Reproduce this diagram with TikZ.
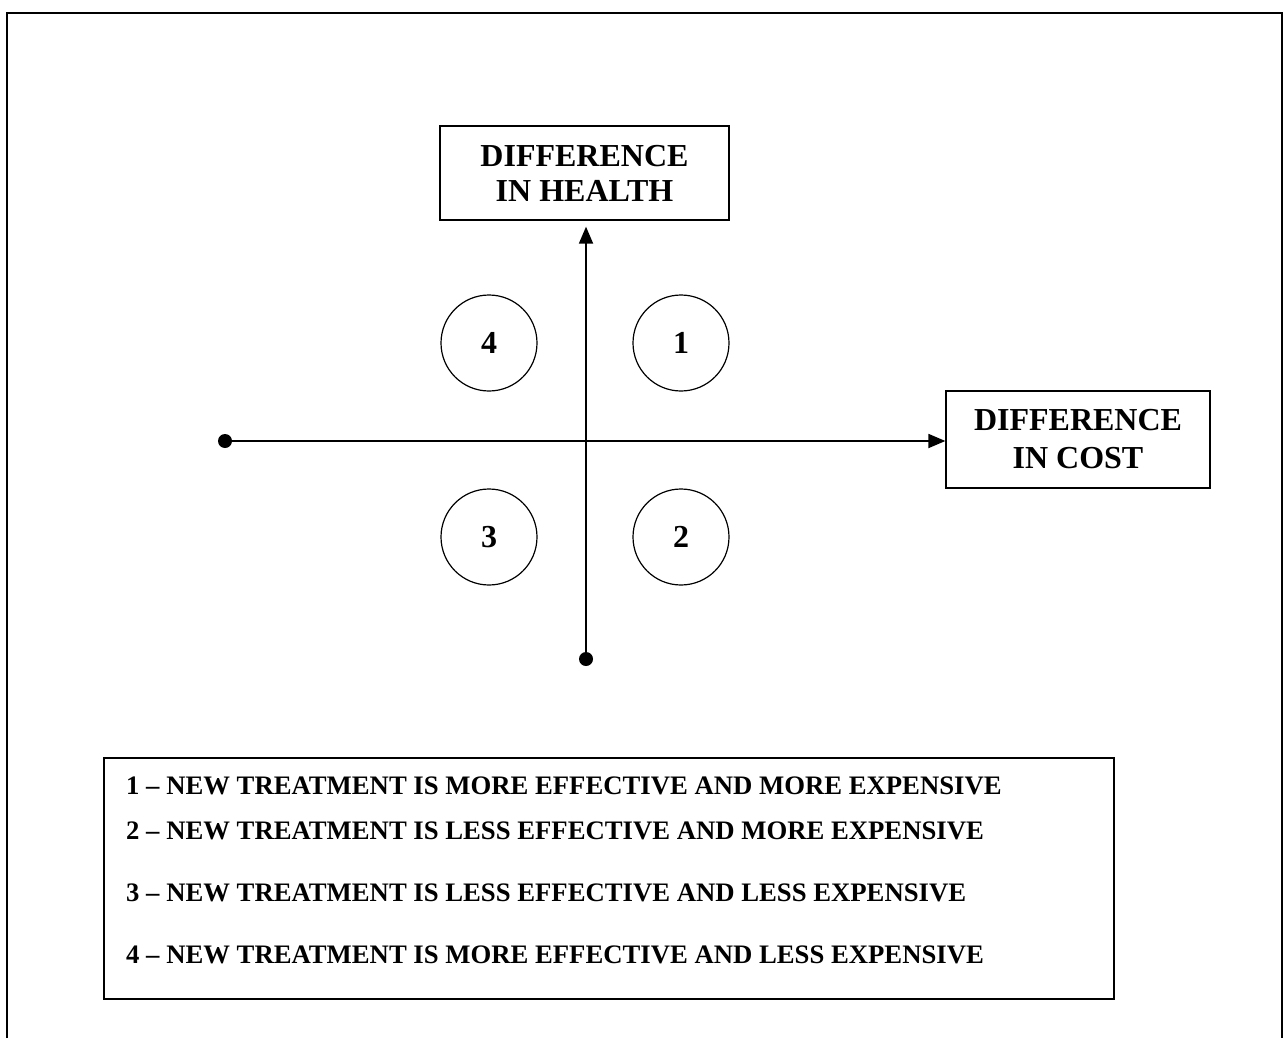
\documentclass[tikz,border=0pt]{standalone}
\usepackage{fontspec}
\setmainfont{Liberation Serif}
\usetikzlibrary{arrows.meta}
\begin{document}
\begin{tikzpicture}[x=1pt,y=-1pt,
  lbl/.style={draw,line width=1.3pt,font=\bfseries\fontsize{32}{35}\selectfont,align=center,inner sep=0pt},
  quad/.style={draw,circle,line width=1.2pt,minimum size=96pt,inner sep=0pt,font=\bfseries\fontsize{32}{36}\selectfont},
  axis/.style={line width=1.8pt},
  tip/.style={-{Triangle[length=17pt,width=14pt]}},
  leg/.style={anchor=west,inner sep=0pt,font=\bfseries\fontsize{26.7}{30}\selectfont}]
\useasboundingbox (0,0) rectangle (1284,1038);
\draw[line width=2pt] (7,1038) -- (7,13) -- (1282,13) -- (1282,1038);
\node[lbl,minimum width=289pt,minimum height=94pt] (health) at (584.5,173) {DIFFERENCE\\IN HEALTH};
\node[lbl,minimum width=264pt,minimum height=97pt] (cost) at (1078,439.5) {DIFFERENCE\\[3pt]IN COST};
\coordinate (vb) at (586,659);
\coordinate (hl) at (225,441);
\fill (vb) circle (7pt);
\fill (hl) circle (7pt);
\draw[axis,tip,shorten >=6pt] (vb) -- (vb |- health.south);
\draw[axis,tip] (hl) -- (hl -| cost.west);
\node[quad] (q4) at (489,343) {4};
\node[quad] (q1) at (681,343) {1};
\node[quad] (q3) at (489,537) {3};
\node[quad] (q2) at (681,537) {2};
\node[draw,line width=1.3pt,minimum width=1010pt,minimum height=241pt,inner sep=0pt] (legend) at (609,878.5) {};
\node[leg] (l1) at (126,786) {1 -- NEW TREATMENT IS MORE EFFECTIVE AND MORE EXPENSIVE};
\node[leg] (l2) at (126,831) {2 -- NEW TREATMENT IS LESS EFFECTIVE AND MORE EXPENSIVE};
\node[leg] (l3) at (126,893) {3 -- NEW TREATMENT IS LESS EFFECTIVE AND LESS EXPENSIVE};
\node[leg] (l4) at (126,955) {4 -- NEW TREATMENT IS MORE EFFECTIVE AND LESS EXPENSIVE};
\end{tikzpicture}
\end{document}
